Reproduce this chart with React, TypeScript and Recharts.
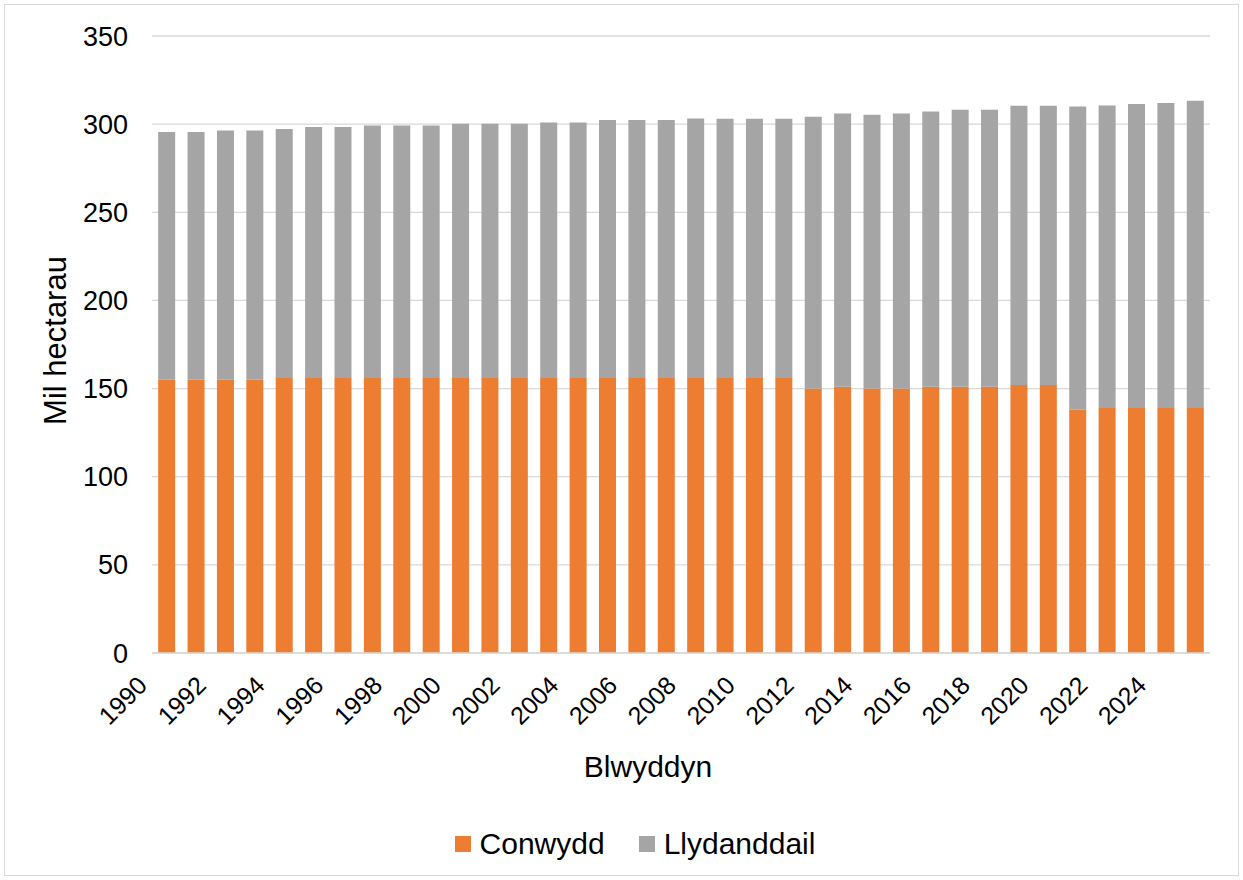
import React from "react";
import { BarChart, Bar, XAxis, YAxis, CartesianGrid, Legend } from "recharts";

const years = [
  "1990","1991","1992","1993","1994","1995","1996","1997","1998","1999",
  "2000","2001","2002","2003","2004","2005","2006","2007","2008","2009",
  "2010","2011","2012","2013","2014","2015","2016","2017","2018","2019",
  "2020","2021","2022","2023","2024","2025",
];

const conwydd = [
  155, 155, 155, 155, 156, 156, 156, 156, 156, 156,
  156, 156, 156, 156, 156, 156, 156, 156, 156, 156,
  156, 156, 150, 151, 150, 150, 151, 151, 151, 152,
  152, 138, 139, 139, 139, 139,
];

const totals = [
  295.5, 295.5, 296.4, 296.4, 297.2, 298.4, 298.4, 299.3, 299.3, 299.3,
  300.2, 300.2, 300.2, 301, 301, 302.4, 302.4, 302.4, 303.2, 303,
  303, 303, 304.2, 306, 305.3, 306, 307.2, 308.1, 308.1, 310.4,
  310.4, 310, 310.6, 311.4, 312, 313.2,
];

const llydanddail = totals.map((t, i) => Math.round((t - conwydd[i]) * 10) / 10);

const yTicks = [0, 50, 100, 150, 200, 250, 300, 350];

const data = years.map((y, i) => ({
  year: y,
  Conwydd: conwydd[i],
  Llydanddail: llydanddail[i],
}));

const FONT = "'Liberation Sans', Arial, sans-serif";

const XTick = (props: any) => {
  const { x, y, payload } = props;
  return (
    <g transform={`translate(${x - 18}, ${y + 26})`}>
      <text
        x={0}
        y={0}
        textAnchor="end"
        transform="rotate(-45)"
        fontSize={25}
        fontFamily={FONT}
        fill="#000"
      >
        {payload.value}
      </text>
    </g>
  );
};

const LegendContent = (props: any) => {
  const { payload } = props;
  return (
    <div
      style={{
        display: "flex",
        justifyContent: "center",
        alignItems: "center",
        paddingLeft: 60,
        fontSize: 30,
        fontFamily: FONT,
        color: "#000",
        lineHeight: "34px",
      }}
    >
      {(payload || []).map((p: any, i: number) => (
        <div
          key={p.value}
          style={{ display: "flex", alignItems: "center", marginLeft: i === 0 ? 0 : 34 }}
        >
          <span
            style={{
              display: "inline-block",
              width: 16,
              height: 16,
              background: p.color,
              marginRight: 9,
            }}
          />
          <span>{p.value}</span>
        </div>
      ))}
    </div>
  );
};

export default function App() {
  return (
    <div
      style={{
        position: "absolute",
        left: 0,
        top: 0,
        width: 1243,
        height: 880,
        background: "#fff",
        fontFamily: FONT,
      }}
    >
      <div
        style={{
          position: "absolute",
          left: 4,
          top: 4,
          width: 1235,
          height: 872,
          border: "1px solid #d9d9d9",
          boxSizing: "border-box",
        }}
      />
      <BarChart
        width={1243}
        height={880}
        data={data}
        margin={{ top: 36, right: 33, left: 0, bottom: 19 }}
        barCategoryGap="21%"
      >
        <CartesianGrid vertical={false} stroke="#d9d9d9" strokeWidth={1.3} />
        <XAxis
          dataKey="year"
          interval={1}
          tickLine={false}
          axisLine={{ stroke: "#d9d9d9", strokeWidth: 1.3 }}
          tick={<XTick />}
          height={174}
          label={{
            value: "Blwyddyn",
            position: "insideBottom",
            offset: 50,
            dx: -33,
            fontSize: 30,
            fill: "#000",
            fontFamily: FONT,
          }}
        />
        <YAxis
          domain={[0, 350]}
          ticks={yTicks}
          tickLine={false}
          axisLine={false}
          width={152}
          tickMargin={18}
          tick={{ fontSize: 27, fill: "#000", fontFamily: FONT }}
          label={{
            value: "Mil hectarau",
            angle: -90,
            position: "insideLeft",
            offset: 55,
            dy: -4,
            fontSize: 31,
            fill: "#000",
            fontFamily: FONT,
            style: { textAnchor: "middle" },
          }}
        />
        <Legend verticalAlign="bottom" align="center" content={<LegendContent />} />
        <Bar dataKey="Conwydd" stackId="a" fill="#ED7D31" isAnimationActive={false} />
        <Bar dataKey="Llydanddail" stackId="a" fill="#A5A5A5" isAnimationActive={false} />
      </BarChart>
    </div>
  );
}
